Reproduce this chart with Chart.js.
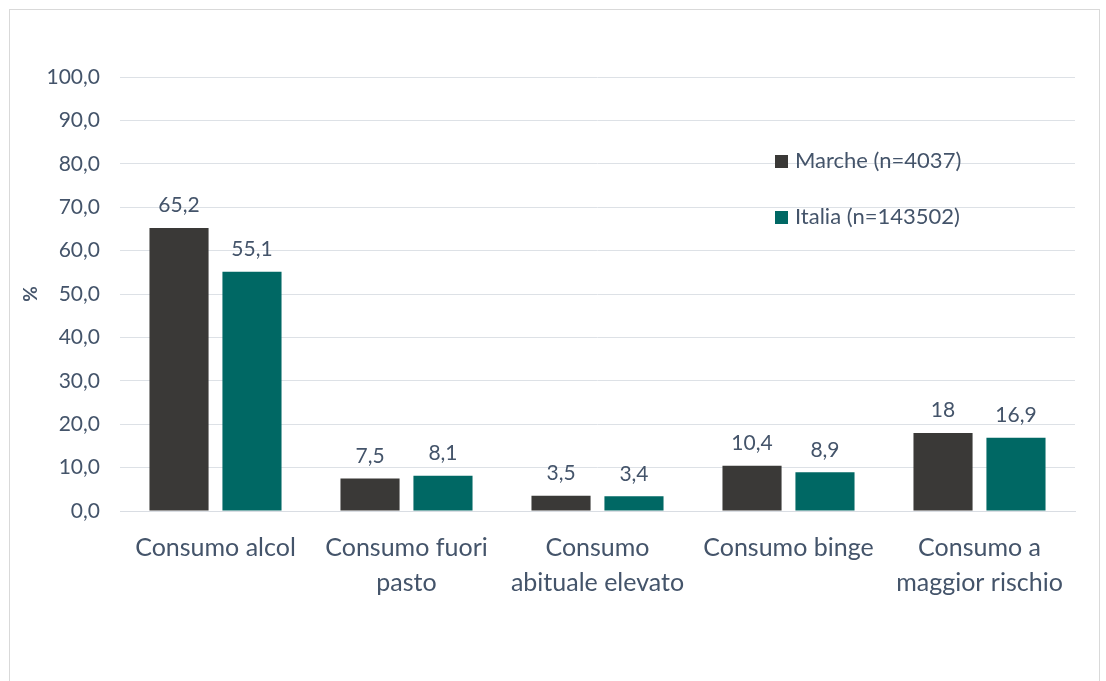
<!DOCTYPE html>
<html>
<head>
<meta charset="utf-8">
<script src="https://cdn.jsdelivr.net/npm/chart.js@4"></script>
<style>
  html, body { margin: 0; padding: 0; background: #fff; }
  #wrap { position: relative; width: 1106px; height: 681px; }
</style>
</head>
<body>
<div id="wrap"><canvas id="alcolChart" width="1106" height="681"></canvas></div>
<script>
const categories = [
    ['Consumo alcol'],
    ['Consumo fuori', 'pasto'],
    ['Consumo', 'abituale elevato'],
    ['Consumo binge'],
    ['Consumo a', 'maggior rischio']
];
const marcheValues = [65.2, 7.5, 3.5, 10.4, 18];
const italiaValues = [55.1, 8.1, 3.4, 8.9, 16.9];
const seriesLabels = ['Marche (n=4037)', 'Italia (n=143502)'];

const textColor = '#44546a';
const fontFamily = 'Lato, "Open Sans", sans-serif';

function fmt(v) {
    return v.toLocaleString('it-IT');
}

// cornice grigia, valori sopra le barre e legenda
const extras = {
    id: 'extras',
    beforeDraw(chart) {
        const c = chart.ctx;
        c.save();
        c.strokeStyle = '#d9d9d9';
        c.lineWidth = 1;
        c.strokeRect(9.5, 9.5, 1090, 700);
        c.restore();
    },
    afterDatasetsDraw(chart) {
        const c = chart.ctx;
        c.save();
        c.font = '21px ' + fontFamily;
        c.fillStyle = textColor;
        c.textAlign = 'center';
        c.textBaseline = 'bottom';
        chart.data.datasets.forEach(function (ds, i) {
            chart.getDatasetMeta(i).data.forEach(function (bar, j) {
                c.fillText(fmt(ds.data[j]), bar.x, bar.y - 12);
            });
        });
        const ys = [161, 217];
        c.font = '22px ' + fontFamily;
        chart.data.datasets.forEach(function (ds, i) {
            c.fillStyle = ds.backgroundColor;
            c.fillRect(775, ys[i] - 6, 13, 13);
            c.fillStyle = textColor;
            c.textAlign = 'left';
            c.textBaseline = 'middle';
            c.fillText(ds.label, 795, ys[i]);
        });
        c.restore();
    }
};

const ctx = document.getElementById('alcolChart').getContext('2d');
new Chart(ctx, {
    type: 'bar',
    data: {
        labels: categories,
        datasets: [{
            label: seriesLabels[0],
            data: marcheValues,
            backgroundColor: '#3a3937',
            barPercentage: 0.81,
            categoryPercentage: 0.764
        }, {
            label: seriesLabels[1],
            data: italiaValues,
            backgroundColor: '#006864',
            barPercentage: 0.81,
            categoryPercentage: 0.764
        }]
    },
    options: {
        responsive: false,
        animation: false,
        layout: {
            padding: { left: 0, top: 77, right: 31, bottom: 0 }
        },
        plugins: {
            legend: { display: false },
            tooltip: { enabled: false }
        },
        scales: {
            y: {
                min: 0,
                max: 100,
                ticks: {
                    stepSize: 10,
                    padding: 20,
                    color: textColor,
                    font: { size: 21, family: fontFamily },
                    callback: function (value) {
                        return value.toLocaleString('it-IT', { minimumFractionDigits: 1, maximumFractionDigits: 1 });
                    }
                },
                grid: { color: '#dde1e6', drawTicks: false },
                border: { display: false },
                title: {
                    display: true,
                    text: '%',
                    color: textColor,
                    font: { size: 19, weight: 'bold', family: fontFamily },
                    padding: { top: 19 }
                },
                afterFit: function (scale) { scale.width = 120; }
            },
            x: {
                ticks: {
                    padding: 20,
                    color: textColor,
                    maxRotation: 0,
                    autoSkip: false,
                    font: { size: 25, family: fontFamily, lineHeight: 1.38 }
                },
                grid: { display: false, drawTicks: false },
                border: { color: '#d9dde3' },
                afterFit: function (scale) { scale.height = 170; }
            }
        }
    },
    plugins: [extras]
});
</script>
</body>
</html>
